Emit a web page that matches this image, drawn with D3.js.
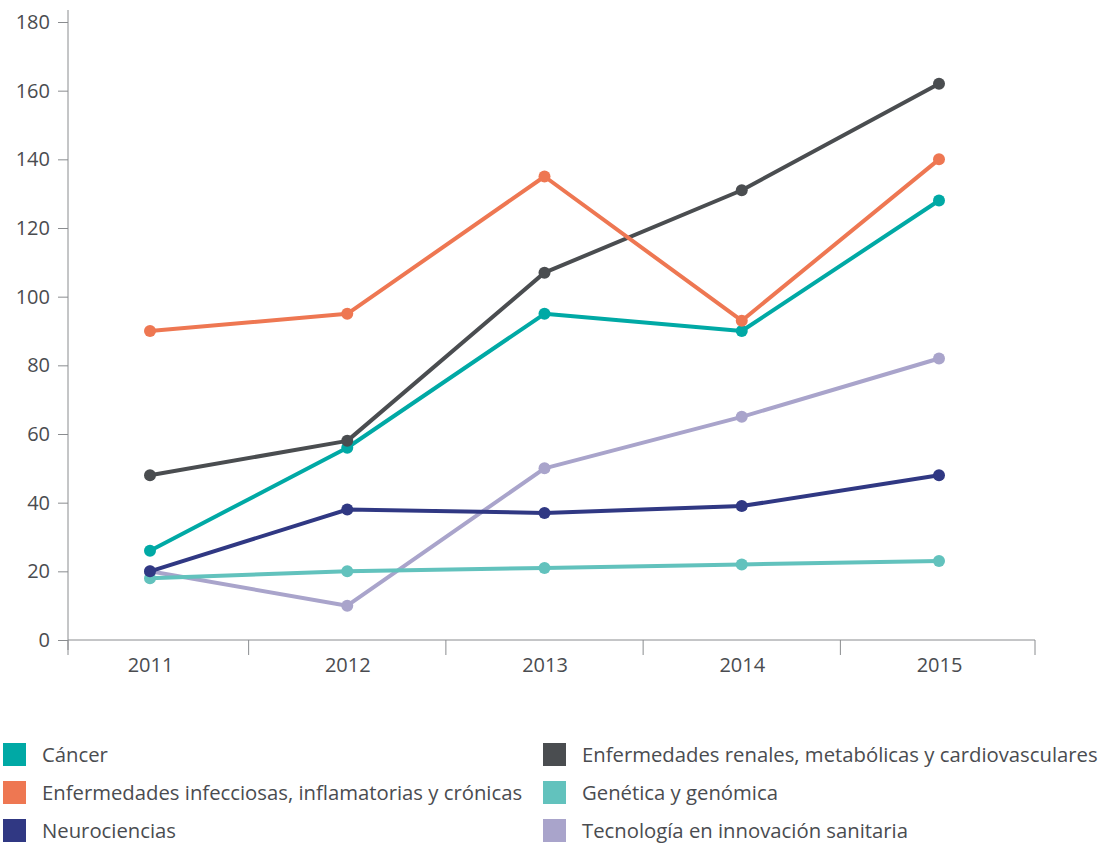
<!DOCTYPE html>
<html>
<head>
<meta charset="utf-8">
<script src="https://cdn.jsdelivr.net/npm/d3@7"></script>
<style>
  body { margin: 0; background: #fff; }
  text { font-family: "Open Sans", sans-serif; fill: #4a4c50; }
</style>
</head>
<body>
<div id="vis"></div>
<script>
// frame constants
const FRAME_WIDTH = 1104;
const FRAME_HEIGHT = 843;
const PLOT = {left: 68, right: 1035, top: 22, bottom: 640};

// data
const YEARS = ["2011", "2012", "2013", "2014", "2015"];
const SERIES_NAMES = [
  "Cáncer",
  "Enfermedades infecciosas, inflamatorias y crónicas",
  "Neurociencias",
  "Enfermedades renales, metabólicas y cardiovasculares",
  "Genética y genómica",
  "Tecnología en innovación sanitaria"
];
const CANCER = [26, 56, 95, 90, 128];
const INFECCIOSAS = [90, 95, 135, 93, 140];
const NEURO = [20, 38, 37, 39, 48];
const RENALES = [48, 58, 107, 131, 162];
const GENETICA = [18, 20, 21, 22, 23];
const TECNOLOGIA = [20, 10, 50, 65, 82];
const Y_TICKS = [0, 20, 40, 60, 80, 100, 120, 140, 160, 180];

const COLORS = ["#00a9a5", "#ee7752", "#303883", "#4a4d50", "#62c2bd", "#a9a4cb"];
const VALUES = [CANCER, INFECCIOSAS, NEURO, RENALES, GENETICA, TECNOLOGIA];
// draw order: lighter series first, darker on top like the original
const DRAW_ORDER = [5, 4, 2, 0, 3, 1];

const FRAME = d3.select("#vis")
  .append("svg")
    .attr("width", FRAME_WIDTH)
    .attr("height", FRAME_HEIGHT);

// scales
const X_SCALE = d3.scalePoint()
  .domain(YEARS)
  .range([150, 939]);
const Y_SCALE = d3.scaleLinear()
  .domain([0, 180])
  .range([PLOT.bottom, PLOT.top]);

// y axis
const yAxis = FRAME.append("g")
  .attr("transform", "translate(" + PLOT.left + ",0)")
  .call(d3.axisLeft(Y_SCALE).tickValues(Y_TICKS).tickSize(10).tickPadding(8));
yAxis.select(".domain").remove();
yAxis.selectAll("line").attr("stroke", "#8a8c8f");
yAxis.selectAll("text").attr("font-size", "20px").attr("font-family", "Open Sans");
yAxis.append("line")
  .attr("x1", 0).attr("x2", 0)
  .attr("y1", 10).attr("y2", PLOT.bottom + 10)
  .attr("stroke", "#8a8c8f");

// x axis: line + labels under the points, separators between categories
const xAxis = FRAME.append("g")
  .attr("transform", "translate(0," + PLOT.bottom + ")")
  .call(d3.axisBottom(X_SCALE).tickSize(0).tickPadding(18));
xAxis.select(".domain").remove();
xAxis.selectAll("text").attr("font-size", "20px").attr("font-family", "Open Sans");
xAxis.append("line")
  .attr("x1", PLOT.left).attr("x2", PLOT.right)
  .attr("y1", 0).attr("y2", 0)
  .attr("stroke", "#8a8c8f");

const sep = [PLOT.left];
for (let i = 0; i < YEARS.length - 1; i++) {
  sep.push((X_SCALE(YEARS[i]) + X_SCALE(YEARS[i + 1])) / 2);
}
sep.push(PLOT.right);
xAxis.selectAll(".sep")
  .data(sep)
  .enter()
  .append("line")
    .attr("class", "sep")
    .attr("x1", (d) => d).attr("x2", (d) => d)
    .attr("y1", 0).attr("y2", 15)
    .attr("stroke", "#8a8c8f");

// lines + points
const line = d3.line()
  .x((d, i) => X_SCALE(YEARS[i]))
  .y((d) => Y_SCALE(d));

DRAW_ORDER.forEach((s) => {
  const g = FRAME.append("g");
  g.append("path")
    .datum(VALUES[s])
    .attr("d", line)
    .attr("fill", "none")
    .attr("stroke", COLORS[s])
    .attr("stroke-width", 4)
    .attr("stroke-linejoin", "round");
  g.selectAll("circle")
    .data(VALUES[s])
    .enter()
    .append("circle")
      .attr("cx", (d, i) => X_SCALE(YEARS[i]))
      .attr("cy", (d) => Y_SCALE(d))
      .attr("r", 6)
      .attr("fill", COLORS[s]);
});

// legend, two columns of three
const legend = FRAME.append("g");
SERIES_NAMES.forEach((name, i) => {
  const col = Math.floor(i / 3);
  const row = i % 3;
  const x = col === 0 ? 3 : 543;
  const y = 743 + row * 38;
  legend.append("rect")
    .attr("x", x).attr("y", y)
    .attr("width", 23).attr("height", 23)
    .attr("fill", COLORS[i]);
  legend.append("text")
    .attr("x", x + 39)
    .attr("y", y + 19)
    .attr("font-size", "20.3px")
    .text(name);
});
</script>
</body>
</html>
